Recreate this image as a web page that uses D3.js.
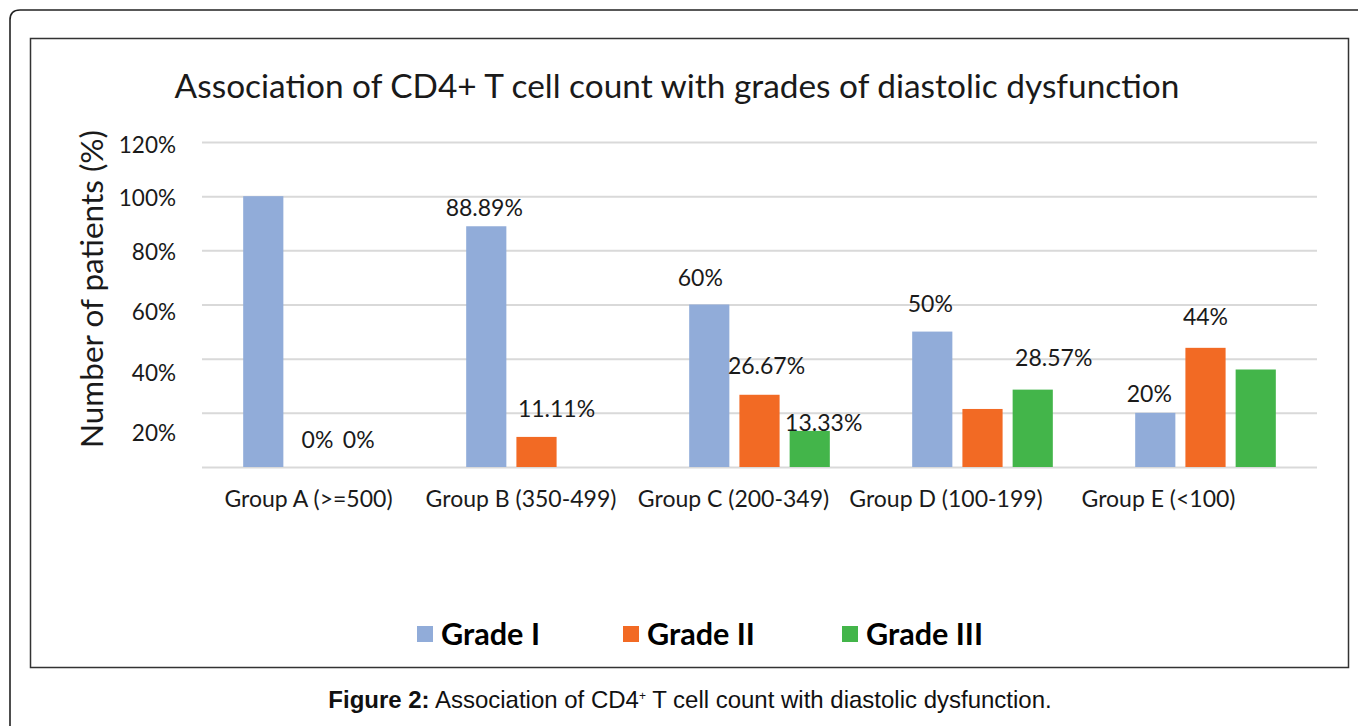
<!DOCTYPE html>
<html>
<head>
<meta charset="utf-8">
<script src="https://cdn.jsdelivr.net/npm/d3@7"></script>
<style>
  html, body { margin: 0; padding: 0; background: #fff; }
  svg { display: block; }
</style>
</head>
<body>
<svg id="chart" width="1358" height="726"></svg>
<script>
// ---------------- data ----------------
const groups = ["Group A (>=500)", "Group B (350-499)", "Group C (200-349)", "Group D (100-199)", "Group E (<100)"];
const seriesNames = ["Grade I", "Grade II", "Grade III"];
const gradeI   = [100, 88.89, 60, 50, 20];
const gradeII  = [0, 11.11, 26.67, 21.43, 44];
const gradeIII = [0, 0, 13.33, 28.57, 36];
// data labels as shown (null = not visible in the original)
const labelsI   = [null, "88.89%", "60%", "50%", "20%"];
const labelsII  = ["0%", "11.11%", "26.67%", null, "44%"];
const labelsIII = ["0%", null, "13.33%", "28.57%", null];
const yTicks = [20, 40, 60, 80, 100, 120];
const gridTicks = [0, 20, 40, 60, 80, 100, 120];
const titleText = "Association of CD4+ T cell count with grades of diastolic dysfunction";
const yTitle = "Number of patients (%)";

// ---------------- layout / style ----------------
const colors = ["#91ACD9", "#F26A24", "#43B54A"];
const textColor = "#1a1a1a";
const font = "Lato, 'Open Sans', sans-serif";
const plot = { left: 202, right: 1317, top: 142, bottom: 467 };
// per-tick vertical nudge of y tick labels (as in the picture)
const yLabelNudge = { 20: 20, 40: 14, 60: 8, 80: 2, 100: 2, 120: 3 };
// per-label nudges [dx, dyCenterAboveTop]
const nudgeI   = [[0, 0], [-2, -19], [-9, -27], [-2, -28], [-6, -19]];
const nudgeII  = [[4, -27], [20, -28], [7, -29], [0, 0], [0, -31]];
const nudgeIII = [[-5, -27], [0, 0], [14, -8], [21, -32], [0, 0]];

const svg = d3.select("#chart");

function fitWidth(sel, target) {
  const node = sel.node();
  const fs = parseFloat(sel.attr("font-size"));
  const w = node.getComputedTextLength();
  if (w > 0) sel.attr("font-size", (fs * target / w).toFixed(2));
  return sel;
}

// frames
svg.append("path")
  .attr("d", "M10,726 L10,20 Q10,10 20,10 L1358,10")
  .attr("fill", "none").attr("stroke", "#222").attr("stroke-width", 1.6);
svg.append("rect")
  .attr("x", 30.5).attr("y", 38.5).attr("width", 1318).attr("height", 629)
  .attr("fill", "none").attr("stroke", "#333").attr("stroke-width", 1.5);

// scales
const x0 = d3.scaleBand().domain(groups).range([plot.left, plot.right]).paddingInner(0).paddingOuter(0);
const x1 = d3.scaleBand().domain(seriesNames).range([0, x0.bandwidth()]).paddingInner(0.2).paddingOuter(0.82);
const y = d3.scaleLinear().domain([0, 120]).range([plot.bottom, plot.top]);
const xLabel = d3.scalePoint().domain(groups).range([308, 1158]);

// gridlines
const grid = svg.append("g").attr("transform", `translate(${plot.left},0)`)
  .call(d3.axisLeft(y).tickValues(gridTicks).tickSize(-(plot.right - plot.left)).tickFormat(""));
grid.select(".domain").remove();
grid.selectAll("line").attr("stroke", "#d9d9d9").attr("stroke-width", 2);

// y axis labels
const yAx = svg.append("g").attr("transform", `translate(176,0)`)
  .call(d3.axisLeft(y).tickValues(yTicks).tickSize(0).tickPadding(0).tickFormat(d => d + "%"));
yAx.select(".domain").remove();
yAx.selectAll("text")
  .attr("font-family", font).attr("font-size", 22.5).attr("fill", textColor)
  .attr("dy", d => (0.33 * 22.5 + yLabelNudge[d]) + "px");

// bars
const series = [gradeI, gradeII, gradeIII];
const labels = [labelsI, labelsII, labelsIII];
const nudges = [nudgeI, nudgeII, nudgeIII];
series.forEach((vals, si) => {
  const g = svg.append("g");
  g.selectAll("rect").data(vals).join("rect")
    .attr("x", (d, i) => x0(groups[i]) + x1(seriesNames[si]))
    .attr("y", d => y(d))
    .attr("width", x1.bandwidth())
    .attr("height", d => y(0) - y(d))
    .attr("fill", colors[si]);
});

// data labels
series.forEach((vals, si) => {
  vals.forEach((v, i) => {
    const txt = labels[si][i];
    if (!txt) return;
    const cx = x0(groups[i]) + x1(seriesNames[si]) + x1.bandwidth() / 2 + nudges[si][i][0];
    const cy = y(v) + nudges[si][i][1];
    svg.append("text").text(txt)
      .attr("x", cx).attr("y", cy).attr("dy", "0.36em")
      .attr("text-anchor", "middle")
      .attr("font-family", font).attr("font-size", 23).attr("fill", textColor);
  });
});

// group labels
const xAx = svg.append("g").attr("transform", `translate(0,${plot.bottom})`)
  .call(d3.axisBottom(xLabel).tickSize(0).tickPadding(0));
xAx.select(".domain").remove();
xAx.selectAll("text")
  .attr("font-family", font).attr("font-size", 23).attr("fill", textColor)
  .attr("dy", "1.75em");

// title
const t = svg.append("text").text(titleText)
  .attr("x", 677).attr("y", 86).attr("dy", "0.35em").attr("text-anchor", "middle")
  .attr("font-family", font).attr("font-size", 33).attr("fill", textColor);
fitWidth(t, 1005);

// y title
const yt = svg.append("text").text(yTitle)
  .attr("transform", "translate(92,289) rotate(-90)").attr("dy", "0.35em")
  .attr("text-anchor", "middle")
  .attr("font-family", font).attr("font-size", 25).attr("fill", textColor);
fitWidth(yt, 318);

// legend
const legendX = [417, 623, 842];
const legendW = [99, 108, 117];
seriesNames.forEach((name, i) => {
  svg.append("rect").attr("x", legendX[i]).attr("y", 626).attr("width", 16).attr("height", 16).attr("fill", colors[i]);
  const lt = svg.append("text").text(name)
    .attr("x", legendX[i] + 24).attr("y", 634).attr("dy", "0.36em")
    .attr("font-family", font).attr("font-weight", "bold").attr("font-size", 28).attr("fill", "#000");
  fitWidth(lt, legendW[i]);
});

// caption
const cap = svg.append("text")
  .attr("x", 690).attr("y", 700).attr("dy", "0.35em").attr("text-anchor", "middle")
  .attr("font-family", "'Liberation Sans', Arial, sans-serif").attr("font-size", 20).attr("fill", "#111");
cap.append("tspan").attr("font-weight", "bold").text("Figure 2:");
cap.append("tspan").text(" Association of CD4");
cap.append("tspan").attr("font-size", 12).attr("dy", "-8").text("+");
cap.append("tspan").attr("dy", "8").text(" T cell count with diastolic dysfunction.");
fitWidth(cap, 725);
</script>
</body>
</html>
